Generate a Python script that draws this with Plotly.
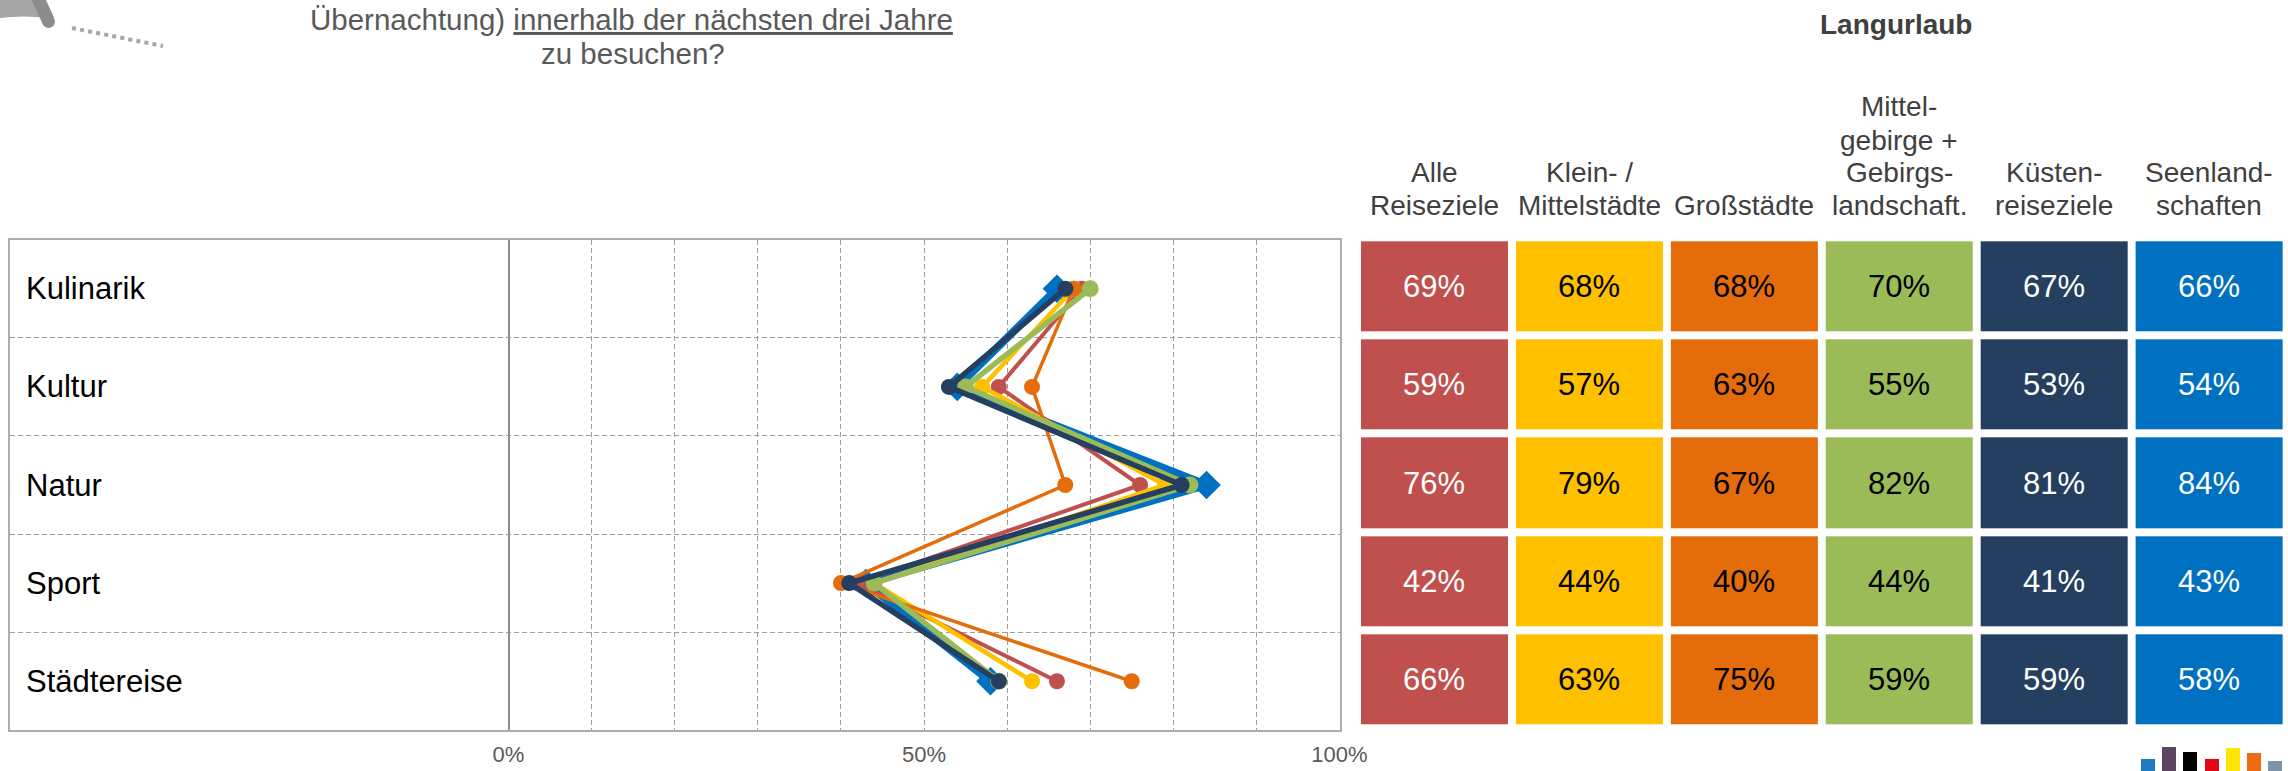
import plotly.graph_objects as go

W, H = 2288, 771

# ---------------- data ----------------
categories = ["Kulinarik", "Kultur", "Natur", "Sport", "Städtereise"]
series_names = ["Alle Reiseziele", "Klein- / Mittelstädte", "Großstädte",
                "Mittelgebirge + Gebirgslandschaft.", "Küstenreiseziele", "Seenlandschaften"]
alle = [69, 59, 76, 42, 66]
klein = [68, 57, 79, 44, 63]
gross = [68, 63, 67, 40, 75]
mittel = [70, 55, 82, 44, 59]
kuesten = [67, 53, 81, 41, 59]
seen = [66, 54, 84, 43, 58]
header_labels = ["Alle<br>Reiseziele", "Klein- /<br>Mittelstädte", "Großstädte",
                 "Mittel-<br>gebirge +<br>Gebirgs-<br>landschaft.", "Küsten-<br>reiseziele",
                 "Seenland-<br>schaften"]
x_tickvals = [0, 10, 20, 30, 40, 50, 60, 70, 80, 90, 100]
x_ticktext = ["0%", "", "", "", "", "50%", "", "", "", "", "100%"]

# ---------------- styles ----------------
FONT = "Liberation Sans, Arial, sans-serif"
colors = ["#C0504D", "#FFC000", "#E46C0A", "#9BBB59", "#243F60", "#0070C0"]
text_colors = ["white", "black", "black", "black", "white", "white"]
values = [alle, klein, gross, mittel, kuesten, seen]
line_widths = [4, 4.5, 3.5, 5.5, 5.5, 8]
marker_syms = ["circle", "circle", "circle", "circle", "circle", "diamond"]
marker_sizes = [16, 16, 16, 17, 16, 22]
draw_order = [5, 0, 1, 2, 3, 4]


def px_x(p):
    return p / W


def px_y(p):
    return 1 - p / H


fig = go.Figure()

# line chart traces
for i in draw_order:
    fig.add_trace(go.Scatter(
        x=values[i], y=categories, name=series_names[i], mode="lines+markers",
        line=dict(color=colors[i], width=line_widths[i]),
        marker=dict(color=colors[i], size=marker_sizes[i], symbol=marker_syms[i],
                    line=dict(width=0)),
        xaxis="x", yaxis="y", showlegend=False, cliponaxis=False,
    ))

# table as heatmaps (one per column)
for i in range(6):
    fig.add_trace(go.Heatmap(
        z=[[v] for v in values[i]], x=[i], y=categories,
        colorscale=[[0, colors[i]], [1, colors[i]]], zmin=0, zmax=100,
        showscale=False, xgap=8, ygap=8,
        texttemplate="%{z}%", textfont=dict(size=31, color=text_colors[i], family=FONT),
        xaxis="x2", yaxis="y2", hoverinfo="skip",
    ))

annotations = []
# row labels
for c in categories:
    annotations.append(dict(x=-58.3, y=c, xref="x", yref="y", text=c, showarrow=False,
                            xanchor="left", yanchor="middle",
                            font=dict(size=31, color="#000000", family=FONT)))
# table headers (one annotation per text line for tight line spacing)
for i, h in enumerate(header_labels):
    lines = h.split("<br>")
    n = len(lines)
    for k, ln in enumerate(lines):
        yc = 206 - (n - 1 - k) * 33
        annotations.append(dict(x=i, y=px_y(yc), xref="x2", yref="paper", text=ln,
                                showarrow=False, xanchor="center", yanchor="middle",
                                font=dict(size=28, color="#404040", family=FONT)))
annotations.append(dict(x=px_x(1896), y=px_y(25), xref="paper", yref="paper",
                        text="<b>Langurlaub</b>", showarrow=False, xanchor="center",
                        yanchor="middle", font=dict(size=28, color="#404040", family=FONT)))
annotations.append(dict(x=px_x(632), y=px_y(19), xref="paper", yref="paper",
                        text="Übernachtung) <u>innerhalb der nächsten drei Jahre</u>",
                        showarrow=False, xanchor="center", yanchor="middle",
                        font=dict(size=29.5, color="#595959", family=FONT)))
annotations.append(dict(x=px_x(633), y=px_y(54), xref="paper", yref="paper",
                        text="zu besuchen?", showarrow=False, xanchor="center", yanchor="middle",
                        font=dict(size=29.5, color="#595959", family=FONT)))

shapes = []
# decorative icon top-left
shapes.append(dict(type="path", xref="paper", yref="paper",
                   path="M {},{} L {},{} L {},{} Q {},{} {},{} Z".format(
                       px_x(0), px_y(0), px_x(44), px_y(0), px_x(47), px_y(18),
                       px_x(24), px_y(15), px_x(0), px_y(18)),
                   fillcolor="#A6A6A6", line=dict(width=0)))
shapes.append(dict(type="line", xref="paper", yref="paper",
                   x0=px_x(37), y0=px_y(-4), x1=px_x(48), y1=px_y(20),
                   line=dict(color="#8C8C8C", width=13)))
shapes.append(dict(type="circle", xref="paper", yref="paper",
                   x0=px_x(42), y0=px_y(15), x1=px_x(55), y1=px_y(28),
                   fillcolor="#8C8C8C", line=dict(width=0)))
shapes.append(dict(type="line", xref="paper", yref="paper",
                   x0=px_x(72), y0=px_y(28), x1=px_x(163), y1=px_y(46),
                   line=dict(color="#A6A6A6", width=4, dash="4px,4.2px")))
# small logo bars bottom-right
logo = [(2141, 759, "#1F7BC1"), (2162, 747, "#5C4560"), (2183, 752, "#000000"),
        (2205, 759, "#E30613"), (2226, 748, "#FFE600"), (2247, 753, "#EE6A12"),
        (2268, 761, "#7E93A8")]
for x0, y0, col in logo:
    shapes.append(dict(type="rect", xref="paper", yref="paper",
                       x0=px_x(x0), x1=px_x(x0 + 14), y0=px_y(y0), y1=px_y(772),
                       fillcolor=col, line=dict(width=0)))

grid_col = "#9E9E9E"
fig.update_layout(
    template="none",
    width=W, height=H, autosize=False,
    margin=dict(l=0, r=0, t=0, b=0, pad=0, autoexpand=False),
    paper_bgcolor="white", plot_bgcolor="white",
    font=dict(family=FONT),
    showlegend=False,
    xaxis=dict(domain=[px_x(9.9), px_x(1339.5)], range=[-60, 100], automargin=False,
               tickvals=x_tickvals, ticktext=x_ticktext,
               tickfont=dict(size=22, color="#595959", family=FONT),
               showgrid=True, gridcolor=grid_col, griddash="5px,3px", gridwidth=1,
               zeroline=True, zerolinecolor="#8C8C8C", zerolinewidth=1.5,
               showline=True, mirror=True, linecolor="#ADADAD", linewidth=2,
               ticks="", ticklabelstandoff=3, fixedrange=True),
    yaxis=dict(domain=[px_y(730.3), px_y(239.7)], type="category", automargin=False,
               categoryorder="array", categoryarray=categories,
               range=[4.5, -0.5], tickson="boundaries",
               showgrid=True, gridcolor=grid_col, griddash="5px,3px", gridwidth=1,
               showticklabels=False, zeroline=False,
               showline=True, mirror=True, linecolor="#ADADAD", linewidth=2,
               ticks="", fixedrange=True),
    xaxis2=dict(domain=[px_x(1357), px_x(2286.5)], range=[-0.5, 5.5], anchor="y2",
                automargin=False, ticks="",
                showgrid=False, zeroline=False, showticklabels=False, showline=False,
                fixedrange=True),
    yaxis2=dict(domain=[px_y(728.5), px_y(237.3)], type="category", automargin=False,
                categoryorder="array", categoryarray=categories, ticks="",
                range=[4.5, -0.5], anchor="x2", showgrid=False, zeroline=False,
                showticklabels=False, showline=False, fixedrange=True),
    annotations=annotations,
    shapes=shapes,
)

fig.write_html(
    "out.html",
    config={"displayModeBar": False, "responsive": False},
    post_script="document.body.style.margin='0px';document.body.style.overflow='hidden';"
                "document.documentElement.style.overflow='hidden';",
)
